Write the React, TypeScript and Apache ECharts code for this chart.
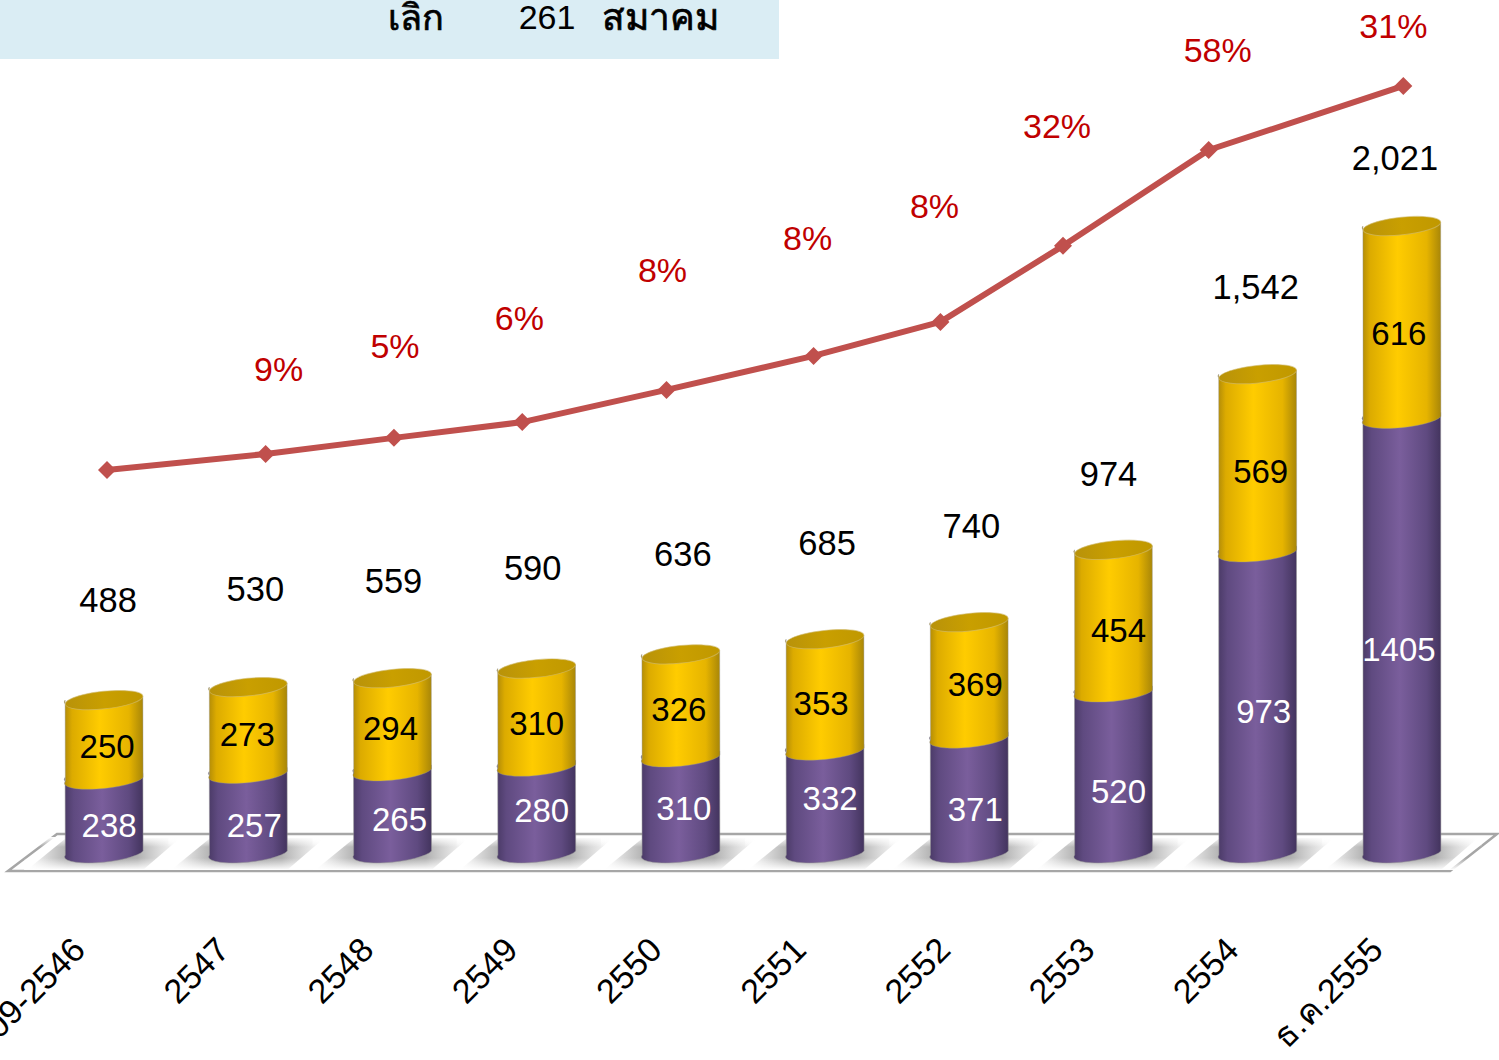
import React, { useEffect, useRef } from "react";
import * as echarts from "echarts";

const categories = ["2509-2546", "2547", "2548", "2549", "2550", "2551", "2552", "2553", "2554", "ธ.ค.2555"];
const purpleValues = [238, 257, 265, 280, 310, 332, 371, 520, 973, 1405];
const yellowValues = [250, 273, 294, 310, 326, 353, 369, 454, 569, 616];
const totalLabels = ["488", "530", "559", "590", "636", "685", "740", "974", "1,542", "2,021"];
const trendPositions = [0.02, 1.12, 2.01, 2.9, 3.9, 4.92, 5.8, 6.65, 7.66, 9.01];
const trendValues = [1232, 1284, 1336, 1387, 1491, 1601, 1711, 1957, 2267, 2474];
const trendLabels = ["", "9%", "5%", "6%", "8%", "8%", "8%", "32%", "58%", "31%"];

// Manual label nudges of the original slide (dx, dy in px)
const purpleNudge = [[5, 11], [6, 14], [7, 9], [5, 3], [3, 5], [5, -1], [6, 16], [5, 21], [6, 11], [-3, 16]];
const yellowNudge = [[3, 8], [-1, 5], [-2, 5], [0, 7], [-2, 5], [-4, 10], [6, 5], [5, 10], [3, 9], [-3, 12]];
const totalNudge = [[4, -100], [7, -98], [1, -97], [-4, -101], [2, -100], [2, -96], [2, -96], [-5, -76], [-2, -87], [-7, -68]];
const trendNudge = [[0, 0], [13, -85], [1, -92], [-3, -104], [-4, -120], [-6, -118], [-6, -116], [-6, -120], [9, -100], [-10, -60]];

const FONT = '"Liberation Sans", Arial, "Noto Sans", sans-serif';
const RX = 39;
const RY = 8.8;
const TILT = 6;
const sinT = Math.sin((TILT * Math.PI) / 180);
const cosT = Math.cos((TILT * Math.PI) / 180);

function hGrad(stops: [number, string][]) {
  return {
    type: "linear", x: 0, y: 0, x2: 1, y2: 0,
    colorStops: stops.map(([offset, color]) => ({ offset, color })),
  };
}
const yellowFill = hGrad([[0, "#b08a08"], [0.1, "#dcab00"], [0.45, "#ffcc00"], [0.82, "#e6b400"], [1, "#a88608"]]);
const purpleFill = hGrad([[0, "#4a3a66"], [0.12, "#5f4a80"], [0.48, "#7a5e9c"], [0.82, "#5f4a80"], [1, "#43345e"]]);
const capFill = hGrad([[0, "#b8920a"], [0.5, "#c99f00"], [1, "#c09800"]]);

function body(cx: number, yBottom: number, yTop: number) {
  const dx = RX * cosT;
  const dy = RX * sinT;
  const arc = (sweep: number, x: number, y: number) => `A ${RX} ${RY} ${-TILT} 0 ${sweep} ${x} ${y}`;
  return [
    `M ${cx - dx} ${yBottom + dy}`,
    arc(0, cx + dx, yBottom - dy),
    `L ${cx + dx} ${yTop - dy}`,
    arc(1, cx - dx, yTop + dy),
    "Z",
  ].join(" ");
}

function text(x: number, y: number, t: string, fill: string, size: number, z2 = 10) {
  return {
    type: "text", x, y, z2,
    style: { text: t, fill, font: `${size}px ${FONT}`, align: "center", verticalAlign: "middle" },
  };
}

function renderShadow(_: any, api: any) {
  const i = api.value(0);
  const [cx, y0] = api.coord([i, 0]);
  const top = y0 - 13;
  const bot = y0 + 18;
  return {
    type: "group",
    children: [
      {
        type: "polygon",
        shape: { points: [[cx - 76, bot], [cx - 38, top], [cx + 76, top], [cx + 40, bot]] },
        style: {
          fill: hGrad([[0, "rgba(170,170,170,0)"], [0.26, "#b0b0b0"], [0.5, "#a0a0a0"], [0.72, "#b0b0b0"], [1, "rgba(190,190,190,0)"]]),
        },
      },
      {
        type: "rect",
        shape: { x: cx - 80, y: bot - 11, width: 160, height: 12 },
        style: {
          fill: { type: "linear", x: 0, y: 0, x2: 0, y2: 1, colorStops: [{ offset: 0, color: "rgba(255,255,255,0)" }, { offset: 1, color: "#ffffff" }] },
        },
      },
      {
        type: "rect",
        shape: { x: cx - 80, y: top - 1, width: 160, height: 10 },
        style: {
          fill: { type: "linear", x: 0, y: 0, x2: 0, y2: 1, colorStops: [{ offset: 0, color: "#ffffff" }, { offset: 1, color: "rgba(255,255,255,0)" }] },
        },
      },
    ],
  };
}

function renderCylinder(_: any, api: any) {
  const i = api.value(0);
  const purple = api.value(1);
  const yellow = api.value(2);
  const [cx, y0] = api.coord([i, 0]);
  const y1 = api.coord([i, purple])[1];
  const y2 = api.coord([i, purple + yellow])[1];
  return {
    type: "group",
    children: [
      { type: "path", z2: 1, shape: { pathData: body(cx, y0, y1) }, style: { fill: purpleFill, stroke: "rgba(150,150,150,0.5)", lineWidth: 1 } },
      { type: "path", z2: 2, shape: { pathData: body(cx, y1, y2) }, style: { fill: yellowFill, stroke: "rgba(150,150,150,0.4)", lineWidth: 1 } },
      {
        type: "ellipse", z2: 3, x: cx, y: y2, rotation: (TILT * Math.PI) / 180,
        shape: { cx: 0, cy: 0, rx: RX, ry: RY },
        style: { fill: capFill, stroke: "rgba(210,190,120,0.6)", lineWidth: 1 },
      },
      text(cx + purpleNudge[i][0], (y0 + y1) / 2 + purpleNudge[i][1], String(purple), "#ffffff", 33),
      text(cx + yellowNudge[i][0], (y1 + y2) / 2 + yellowNudge[i][1], String(yellow), "#000000", 33),
      text(cx + totalNudge[i][0], y2 + totalNudge[i][1], totalLabels[i], "#000000", 34.5),
    ],
  };
}

export default function App() {
  const ref = useRef<HTMLDivElement>(null);
  useEffect(() => {
    document.body.style.margin = "0";
    document.body.style.overflow = "hidden";
    const chart = echarts.init(ref.current!, null, { renderer: "svg" });
    chart.setOption({
      animation: false,
      backgroundColor: "#ffffff",
      grid: { left: 32, top: 0, width: 1442, height: 851, outerBoundsMode: "none", containLabel: false },
      xAxis: [
        {
          type: "category",
          data: categories,
          axisLine: { show: false },
          axisTick: { show: false },
          axisLabel: {
            interval: 0,
            rotate: 45,
            margin: 67,
            padding: [0, 36, 0, 0],
            color: "#000000",
            fontSize: 34,
            fontFamily: FONT,
          },
        },
        { type: "value", min: -0.5, max: 9.5, show: false, position: "top" },
      ],
      yAxis: { type: "value", min: 0, max: 2752, show: false, splitLine: { show: false } },
      graphic: [
        { type: "rect", z: 0, shape: { x: 0, y: 0, width: 779, height: 59 }, style: { fill: "#daedf4" } },
        { type: "text", z: 1, x: 416, y: 17, style: { text: "เลิก", fill: "#000", stroke: "#000", lineWidth: 0.7, font: `36px ${FONT}`, align: "center", verticalAlign: "middle" } },
        { type: "text", z: 1, x: 547, y: 17, style: { text: "261", fill: "#000", font: `34px ${FONT}`, align: "center", verticalAlign: "middle" } },
        { type: "text", z: 1, x: 660, y: 17, style: { text: "สมาคม", fill: "#000", stroke: "#000", lineWidth: 0.7, font: `37px ${FONT}`, align: "center", verticalAlign: "middle" } },
        {
          type: "polygon", z: 0,
          shape: { points: [[8, 871], [1450, 871], [1497, 834], [57, 834]] },
          style: { fill: "#ffffff", stroke: "#a6a6a6", lineWidth: 2.5 },
        },
      ],
      series: [
        {
          type: "custom", z: 1, silent: true, renderItem: renderShadow,
          encode: { x: 0, y: 1 },
          data: categories.map((_, i) => [i, purpleValues[i], yellowValues[i]]),
        },
        {
          type: "custom", z: 2, silent: true, renderItem: renderCylinder,
          encode: { x: 0, y: 1 },
          data: categories.map((_, i) => [i, purpleValues[i], yellowValues[i]]),
        },
        {
          type: "line", z: 3, xAxisIndex: 1, yAxisIndex: 0, silent: true,
          symbol: "diamond", symbolSize: 18,
          lineStyle: { color: "#c0504d", width: 6 },
          itemStyle: { color: "#c0504d" },
          data: trendValues.map((v, i) => ({
            value: [trendPositions[i], v],
            label: {
              show: trendLabels[i] !== "",
              position: "inside",
              formatter: trendLabels[i],
              offset: trendNudge[i],
              color: "#c00000",
              fontSize: 34,
              fontFamily: FONT,
            },
          })),
        },
      ],
    });
    return () => chart.dispose();
  }, []);
  return <div ref={ref} style={{ width: 1499, height: 1060 }} />;
}
